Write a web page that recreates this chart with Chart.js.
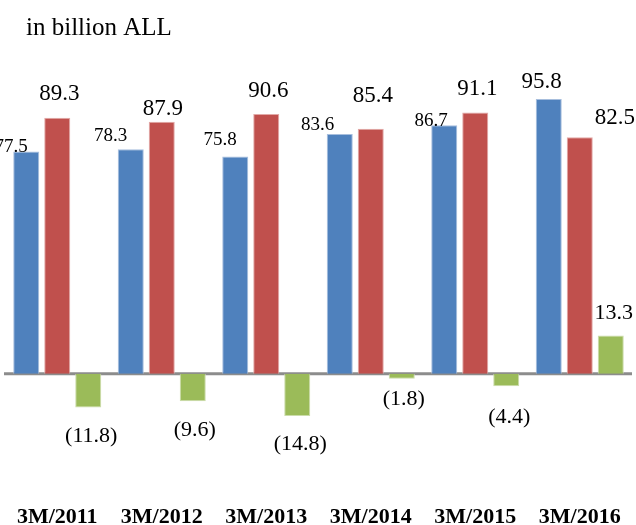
<!DOCTYPE html>
<html>
<head>
<meta charset="utf-8">
<script src="https://cdn.jsdelivr.net/npm/chart.js@4.4.1/dist/chart.umd.min.js"></script>
<style>
  html, body { margin: 0; padding: 0; background: #ffffff; overflow: hidden; }
  canvas { display: block; }
</style>
</head>
<body>
<canvas id="c" width="636" height="525" style="width:636px;height:525px;"></canvas>
<script>
// ---- data ----
const categories = ['3M/2011', '3M/2012', '3M/2013', '3M/2014', '3M/2015', '3M/2016'];
const seriesBlue  = [77.5, 78.3, 75.8, 83.6, 86.7, 95.8];
const seriesRed   = [89.3, 87.9, 90.6, 85.4, 91.1, 82.5];
const seriesGreen = [-11.8, -9.6, -14.8, -1.8, -4.4, 13.3];
const unitTitle = 'in billion ALL';

// ---- label placement (offsets of label centre from the bar tip, in px) ----
const labelStyle = [
  { size: [19, 19, 19, 19, 19, 23], dx: [-15, -20, -15, -22, -13, -7], dy: [-4, -13, -16, -9, -4, -17] },
  { size: [23, 23, 23, 23, 23, 23], dx: [2, 1, 2, 2, 2, 35], dy: [-24, -13, -23, -33, -24, -19] },
  { size: [22, 22, 22, 22, 22, 22], dx: [3, 2, 3, 2, 3, 3], dy: [29, 29, 28, 20, 31, -22] }
];

const SERIF = '"Liberation Serif", "DejaVu Serif", serif';

const fmt = v => v < 0 ? '(' + Math.abs(v).toFixed(1) + ')' : v.toFixed(1);

const valueLabels = {
  id: 'valueLabels',
  afterDatasetsDraw(chart) {
    const ctx = chart.ctx;
    ctx.save();
    ctx.fillStyle = '#000';
    ctx.textAlign = 'center';
    ctx.textBaseline = 'middle';
    chart.data.datasets.forEach((ds, di) => {
      const meta = chart.getDatasetMeta(di);
      const st = labelStyle[di];
      meta.data.forEach((bar, i) => {
        ctx.font = st.size[i] + 'px ' + SERIF;
        ctx.fillText(fmt(ds.data[i]), bar.x + st.dx[i], bar.y + st.dy[i]);
      });
    });
    ctx.restore();
  }
};

const zeroLineAndTitle = {
  id: 'zeroLineAndTitle',
  beforeDatasetsDraw(chart) {
    const ctx = chart.ctx;
    const y0 = chart.scales.y.getPixelForValue(0);
    const a = chart.chartArea;
    ctx.save();
    ctx.strokeStyle = '#8c8c8c';
    ctx.lineWidth = 3;
    ctx.beginPath();
    ctx.moveTo(a.left - 1, y0);
    ctx.lineTo(a.right, y0);
    ctx.stroke();
    ctx.restore();
  },
  afterDraw(chart) {
    const ctx = chart.ctx;
    ctx.save();
    ctx.fillStyle = '#000';
    ctx.font = '25px ' + SERIF;
    ctx.textAlign = 'left';
    ctx.textBaseline = 'middle';
    ctx.fillText(unitTitle, 26, 28);
    ctx.restore();
  }
};

new Chart(document.getElementById('c'), {
  type: 'bar',
  data: {
    labels: categories,
    datasets: [
      { label: 'blue', data: seriesBlue, backgroundColor: '#4F81BD', borderColor: '#A7BEDD', borderWidth: 1 },
      { label: 'red', data: seriesRed, backgroundColor: '#C0504D', borderColor: '#E2A9A7', borderWidth: 1 },
      { label: 'green', data: seriesGreen, backgroundColor: '#9BBB59', borderColor: '#CBDCAA', borderWidth: 1 }
    ]
  },
  options: {
    responsive: false,
    animation: false,
    devicePixelRatio: 1,
    categoryPercentage: 0.89,
    barPercentage: 0.84,
    layout: { padding: { top: 87, bottom: -5, left: 5, right: 4 } },
    plugins: {
      legend: { display: false },
      title: { display: false },
      tooltip: { enabled: false }
    },
    scales: {
      x: {
        grid: { display: false, drawTicks: false },
        border: { display: false },
        ticks: {
          padding: 4,
          color: '#000',
          maxRotation: 0,
          font: { family: SERIF, size: 22, weight: 'bold', lineHeight: 0.8 }
        }
      },
      y: {
        display: false,
        min: -45.6,
        max: 100
      }
    }
  },
  plugins: [zeroLineAndTitle, valueLabels]
});
</script>
</body>
</html>
